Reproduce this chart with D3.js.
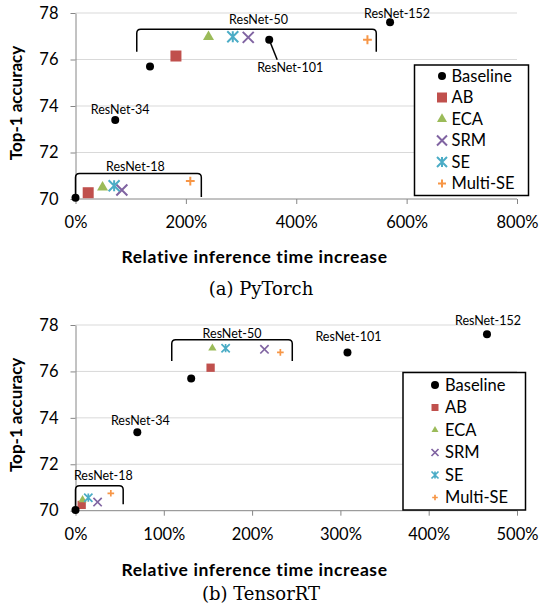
<!DOCTYPE html>
<meta charset="utf-8">
<style>
body { margin: 0; background: #fff; }
text { font-family: Lato, "Open Sans", sans-serif; fill: #000; }
.grid line { stroke: #d9d9d9; stroke-width: 1px; }
.axis path, .axis line { stroke: #868686; stroke-width: 1px; }
.axis text { font-size: 16.5px; }
.title { font-size: 17px; font-weight: bold; }
.xtitle { font-size: 17.5px; letter-spacing: 0.6px; }
.caption { font-family: "DejaVu Serif", serif; font-size: 18px; }
.model { font-size: 12.5px; }
.bracket { fill: none; stroke: #000; stroke-width: 1.5px; }
.legend rect { fill: #fff; stroke: #000; stroke-width: 1.5px; }
</style>
<body>
<script src="https://d3js.org/d3.v7.min.js"></script>
<script>

// categories
var methods = ["Baseline", "AB", "ECA", "SRM", "SE", "Multi-SE"];
var models = ["ResNet-18", "ResNet-34", "ResNet-50", "ResNet-101", "ResNet-152"];

// tick labels
var yTicks = [70, 72, 74, 76, 78];
var pytorchTicks = [0, 200, 400, 600, 800];
var tensorrtTicks = [0, 100, 200, 300, 400, 500];

// PyTorch: [relative inference time increase %, top-1 accuracy]
var ptBaseline = [[0, 70.05], [72, 73.4], [135, 75.7], [351, 76.85], [570, 77.6]];
var ptAB = [[23, 70.27], [182, 76.15]];
var ptECA = [[49, 70.5], [241, 76.97]];
var ptSRM = [[84, 70.39], [313, 76.95]];
var ptSE = [[70, 70.57], [285, 76.98]];
var ptMultiSE = [[208, 70.77], [529, 76.85]];

// TensorRT
var trtBaseline = [[0, 70.03], [70, 73.38], [131, 75.69], [308, 76.82], [466, 77.6]];
var trtAB = [[7, 70.25], [153, 76.16]];
var trtECA = [[8, 70.47], [155, 77.0]];
var trtSRM = [[25, 70.37], [214, 76.95]];
var trtSE = [[14.5, 70.56], [170, 77.0]];
var trtMultiSE = [[40, 70.75], [232, 76.82]];

var colors = {"Baseline": "#000", "AB": "#c0504d", "ECA": "#9bbb59",
              "SRM": "#8064a2", "SE": "#4bacc6", "Multi-SE": "#f79646"};

var svg = d3.select("body").append("svg")
    .attr("width", 540)
    .attr("height", 609);

// marker drawing; s = nominal marker width in px
function marker(g, method, s) {
  var h = s / 2;
  if (method == "Baseline") {
    g.append("path").attr("d", d3.symbol(d3.symbolCircle, Math.PI * 16)())
      .style("fill", colors[method]);
  } else if (method == "AB") {
    g.append("path").attr("d", d3.symbol(d3.symbolSquare, s * s)())
      .style("fill", colors[method]);
  } else if (method == "ECA") {
    g.append("path").attr("d", d3.symbol(d3.symbolTriangle, Math.sqrt(3) / 4 * s * s)())
      .style("fill", colors[method]);
  } else {
    var d;
    if (method == "SRM") d = "M" + -h + "," + -h + "L" + h + "," + h + "M" + -h + "," + h + "L" + h + "," + -h;
    else if (method == "SE") d = "M" + -h + "," + -h + "L" + h + "," + h + "M" + -h + "," + h + "L" + h + "," + -h + "M0," + -h + "V" + h;
    else { h = h * 0.8; d = "M" + -h + ",0H" + h + "M0," + -h + "V" + h; }
    g.append("path").attr("d", d)
      .style("fill", "none")
      .style("stroke", colors[method])
      .style("stroke-width", s > 9 ? 2 : 1.7);
  }
}

function drawPanel(p) {
  var x = d3.scaleLinear().domain([0, p.ticks[p.ticks.length - 1]]).range([75.5, 517]);
  var y = d3.scaleLinear().domain([70, 78]).range(p.yRange);
  var g = svg.append("g");

  // gridlines
  g.append("g").attr("class", "grid")
    .selectAll("line").data(yTicks.slice(1)).enter().append("line")
      .attr("x1", x(0)).attr("x2", x.range()[1])
      .attr("y1", d => y(d)).attr("y2", d => y(d));

  g.append("g").attr("class", "axis")
      .attr("transform", "translate(0," + y(70) + ")")
      .call(d3.axisBottom(x).tickValues(p.ticks).tickSizeInner(5).tickSizeOuter(0)
        .tickPadding(p.xPad).tickFormat(d => d + "%"))
      .call(a => a.select(".domain").attr("d", "M" + x(0) + ",0H" + x.range()[1]));

  g.append("g").attr("class", "axis")
      .attr("transform", "translate(" + x(0) + ",0)")
      .call(d3.axisLeft(y).tickValues(yTicks).tickSizeInner(5).tickSizeOuter(0).tickPadding(12));
  g.selectAll(".axis text").style("font-family", "Lato");

  // axis titles
  g.append("text").attr("class", "title")
      .attr("text-anchor", "middle")
      .attr("transform", "translate(22," + (y(74) - 3) + ")rotate(-90)")
      .text("Top-1 accuracy");
  g.append("text").attr("class", "title xtitle")
      .attr("text-anchor", "middle").attr("dy", "0.35em")
      .attr("x", 254.5).attr("y", p.xTitleY)
      .text("Relative inference time increase");
  g.append("text").attr("class", "caption")
      .attr("text-anchor", "middle").attr("dy", "0.35em")
      .attr("x", 261).attr("y", p.captionY)
      .text(p.caption);

  // brackets round the ResNet-18 / ResNet-50 groups
  p.brackets.forEach(function(b) {
    var x0 = x(b.x0), x1 = x(b.x1), t = y(b.top), bl = y(b.bottomL), br = y(b.bottomR), r = 4;
    g.append("path").attr("class", "bracket")
      .attr("d", "M" + x0 + "," + bl + "V" + (t + r) + "Q" + x0 + "," + t + " " + (x0 + r) + "," + t +
        "H" + (x1 - r) + "Q" + x1 + "," + t + " " + x1 + "," + (t + r) + "V" + br);
    g.append("text").attr("class", "model")
      .attr("text-anchor", "middle").attr("dy", "0.35em")
      .attr("x", x((b.x0 + b.x1) / 2) + b.dx).attr("y", t + b.dy)
      .text(b.label);
  });

  // leader lines
  p.leaders.forEach(function(l) {
    var d = p.series.Baseline[models.indexOf(l.model)];
    g.append("line")
      .attr("x1", x(d[0])).attr("y1", y(d[1]))
      .attr("x2", x(d[0]) + l.dx).attr("y2", y(d[1]) + l.dy)
      .style("stroke", "#000").style("stroke-width", 1.5);
  });

  // points
  methods.slice(1).concat(["Baseline"]).forEach(function(m) {
    g.selectAll(null).data(p.series[m]).enter().append("g")
      .attr("transform", d => "translate(" + x(d[0]) + "," + y(d[1]) + ")")
      .each(function() { marker(d3.select(this), m, p.markerSize); });
  });

  // model labels next to baselines
  p.labels.forEach(function(l) {
    var d = p.series.Baseline[models.indexOf(l.model)];
    g.append("text").attr("class", "model")
      .attr("text-anchor", "middle").attr("dy", "0.35em")
      .attr("x", x(d[0]) + l.dx).attr("y", y(d[1]) + l.dy)
      .text(l.model);
  });

  // legend
  var L = p.legend;
  var lg = g.append("g").attr("class", "legend");
  lg.append("rect").attr("x", L.x).attr("y", L.y).attr("width", L.w).attr("height", L.h);
  var item = lg.selectAll(".item").data(methods).enter().append("g")
      .attr("transform", (d, i) => "translate(0," + (L.row0 + i * L.step) + ")");
  item.append("g").attr("transform", "translate(" + L.mx + ",0)")
      .each(function(d) { marker(d3.select(this), d, L.ms); });
  item.append("text").attr("x", L.tx).attr("dy", "0.35em")
      .style("font-size", "16.5px")
      .text(d => d);
}

drawPanel({
  ticks: pytorchTicks, yRange: [199, 13], xPad: 12,
  xTitleY: 256.5, captionY: 289, caption: "(a) PyTorch", markerSize: 11,
  series: {"Baseline": ptBaseline, "AB": ptAB, "ECA": ptECA, "SRM": ptSRM, "SE": ptSE, "Multi-SE": ptMultiSE},
  brackets: [
    {label: "ResNet-18", x0: 0, x1: 228, top: 71.1, bottomL: 70.0, bottomR: 70.09, dx: -3, dy: -7},
    {label: "ResNet-50", x0: 111, x1: 545, top: 77.3, bottomL: 76.33, bottomR: 76.33, dx: 2, dy: -10}
  ],
  leaders: [{model: "ResNet-101", dx: 8, dy: 20}],
  labels: [
    {model: "ResNet-34", dx: 5, dy: -10},
    {model: "ResNet-101", dx: 21, dy: 28},
    {model: "ResNet-152", dx: 7, dy: -9}
  ],
  legend: {x: 414.5, y: 65, w: 114, h: 130.5, row0: 76, step: 21.5, mx: 442, tx: 451.5, ms: 10}
});

drawPanel({
  ticks: tensorrtTicks, yRange: [510.7, 325], xPad: 13,
  xTitleY: 569.5, captionY: 593.5, caption: "(b) TensorRT", markerSize: 8.3,
  series: {"Baseline": trtBaseline, "AB": trtAB, "ECA": trtECA, "SRM": trtSRM, "SE": trtSE, "Multi-SE": trtMultiSE},
  brackets: [
    {label: "ResNet-18", x0: 0, x1: 54, top: 71.08, bottomL: 70.0, bottomR: 70.28, dx: 4, dy: -10},
    {label: "ResNet-50", x0: 109, x1: 245.5, top: 77.36, bottomL: 76.45, bottomR: 76.45, dx: 0, dy: -6}
  ],
  leaders: [],
  labels: [
    {model: "ResNet-34", dx: 3, dy: -11.5},
    {model: "ResNet-101", dx: 1, dy: -15.5},
    {model: "ResNet-152", dx: 1, dy: -13.5}
  ],
  legend: {x: 403, y: 372.5, w: 122.5, h: 137.5, row0: 385, step: 22.5, mx: 435, tx: 445, ms: 7}
});

</script>
</body>
